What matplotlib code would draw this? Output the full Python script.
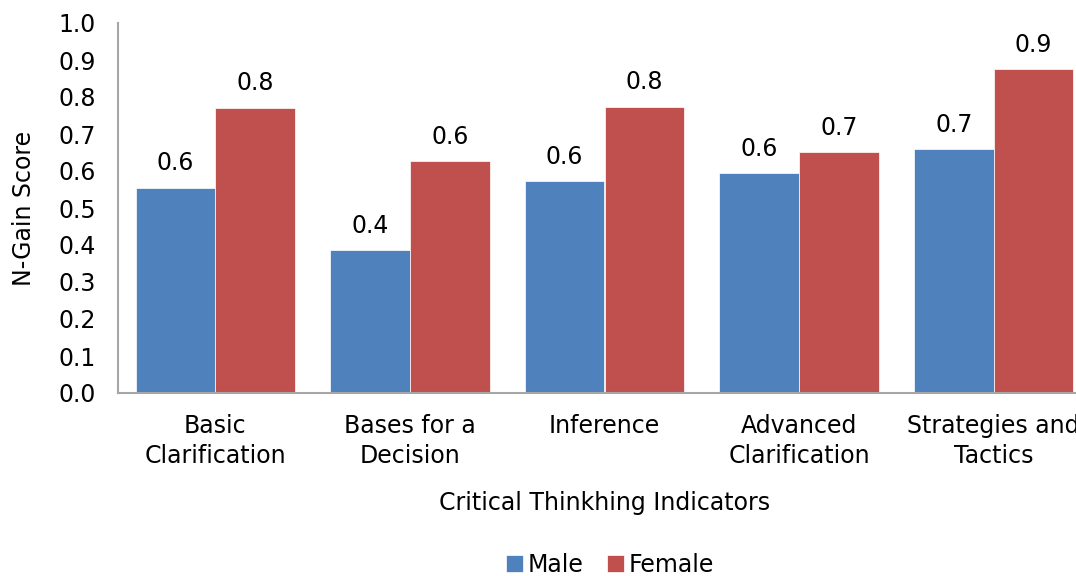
import matplotlib
matplotlib.use("Agg")
from matplotlib import pyplot as plt
import numpy as np

categories = ["Basic\nClarification", "Bases for a\nDecision", "Inference",
              "Advanced\nClarification", "Strategies and\nTactics"]
male = [0.555, 0.386, 0.572, 0.594, 0.659]
female = [0.771, 0.627, 0.773, 0.651, 0.875]

blue = "#4F81BD"
red = "#C0504D"
fs = 17

fig = plt.figure(figsize=(10.76, 5.76), dpi=100)
ax = fig.add_axes([118 / 1076, 1 - 393 / 576, 973 / 1076, 370 / 576])

x = np.arange(len(categories))
w = 0.41
b1 = ax.bar(x - w / 2, male, w, color=blue, edgecolor="white", linewidth=0.5, label="Male")
b2 = ax.bar(x + w / 2, female, w, color=red, edgecolor="white", linewidth=0.5, label="Female")

for bars, vals in [(b1, male), (b2, female)]:
    for rect, v in zip(bars, vals):
        ax.annotate(f"{v:.1f}", (rect.get_x() + rect.get_width() / 2, v),
                    xytext=(0, 9), textcoords="offset points",
                    ha="center", va="bottom", fontsize=fs)

ax.set_xlim(-0.5, 4.5)
ax.set_ylim(0, 1.0)
ax.set_yticks(np.arange(0, 1.01, 0.1))
ax.set_yticklabels([f"{t:.1f}" for t in np.arange(0, 1.01, 0.1)], fontsize=fs)
ax.set_xticks(x)
ax.set_xticklabels(categories, fontsize=fs, linespacing=1.35)
ax.tick_params(axis="y", length=0, pad=16)
ax.tick_params(axis="x", length=0, pad=15)

for s in ["top", "right"]:
    ax.spines[s].set_visible(False)
for s in ["left", "bottom"]:
    ax.spines[s].set_color("#A6A6A6")
    ax.spines[s].set_linewidth(1.5)

ax.set_ylabel("N-Gain Score", fontsize=fs, labelpad=16)
ax.set_xlabel("Critical Thinkhing Indicators", fontsize=fs, labelpad=16)

fig.legend(handles=[b1, b2], labels=["Male", "Female"], loc="center",
           bbox_to_anchor=(610 / 1076, 1 - 565 / 576), ncol=2, frameon=False,
           fontsize=fs, handlelength=0.7, handleheight=0.7, handletextpad=0.2,
           columnspacing=1.0)

fig.savefig("out.png", dpi=100)
